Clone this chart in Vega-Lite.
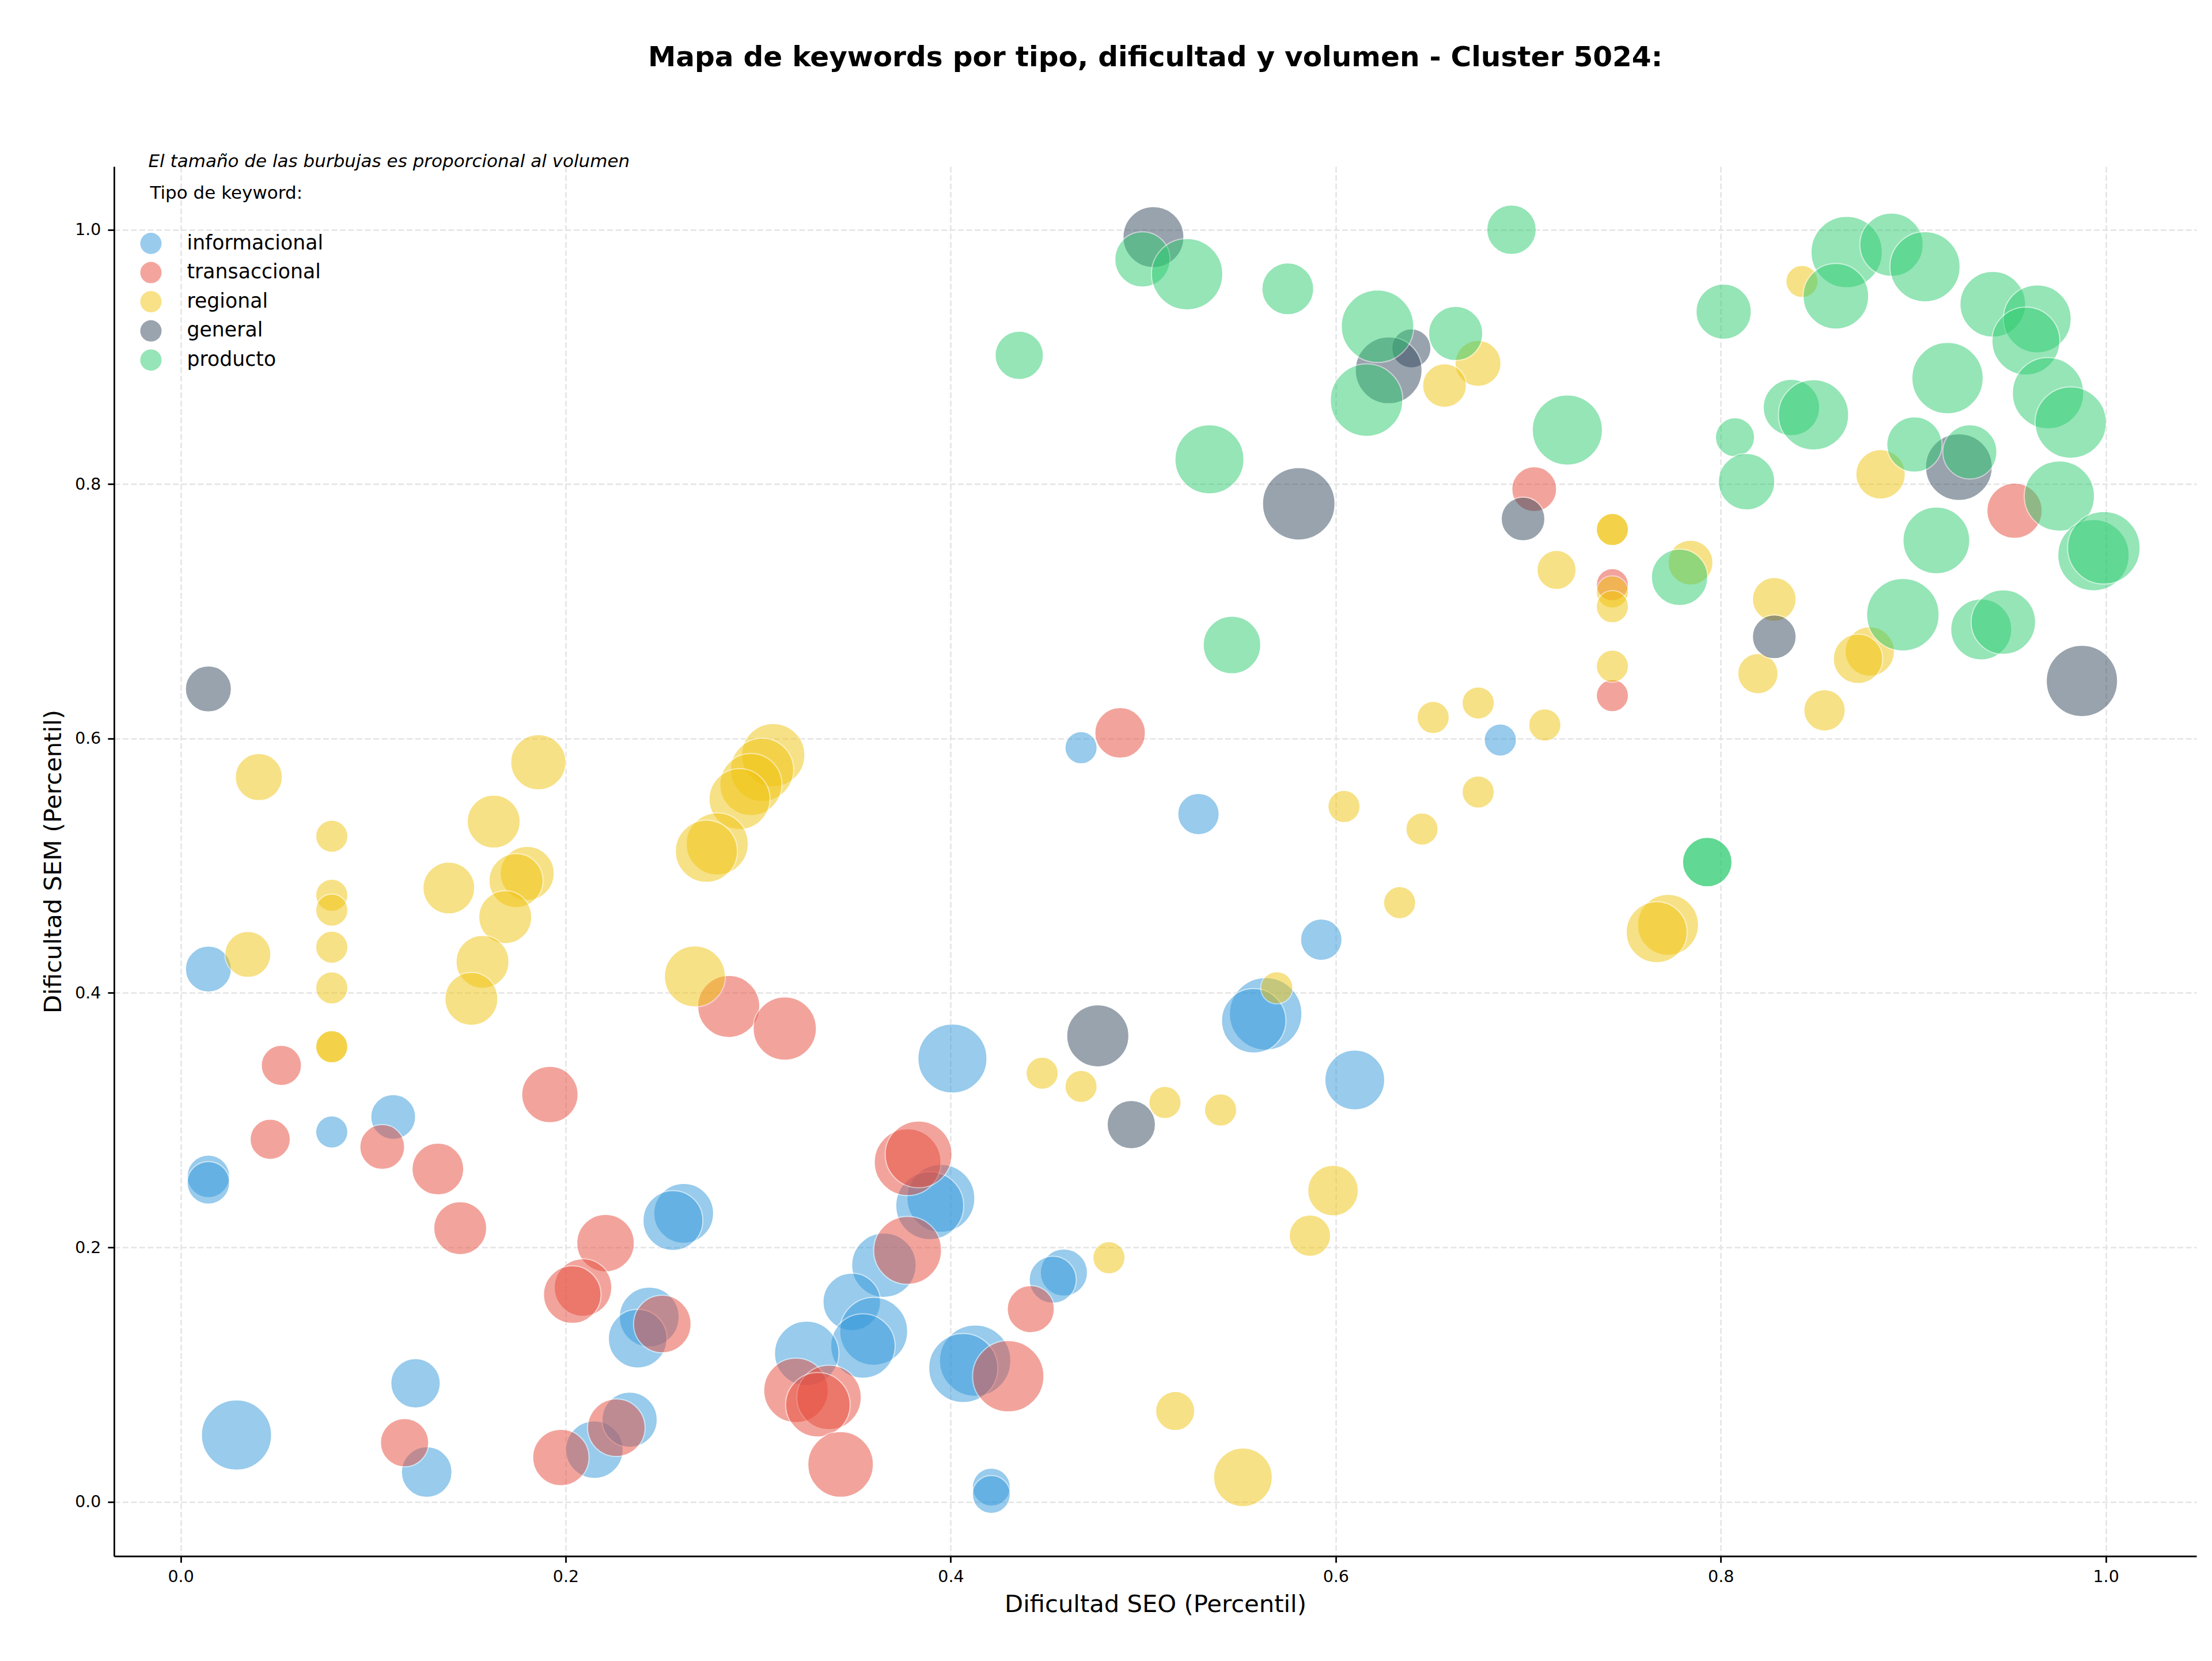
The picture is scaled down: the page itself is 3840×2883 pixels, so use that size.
{
  "$schema": "https://vega.github.io/schema/vega-lite/v6.json",
  "autosize": {"type": "none"},
  "padding": {"left": 198, "top": 289, "right": 27, "bottom": 182},
  "width": 3615,
  "height": 2412,
  "background": "white",
  "title": {
    "text": "Mapa de keywords por tipo, dificultad y volumen - Cluster 5024:",
    "fontSize": 48.6,
    "fontWeight": "bold",
    "font": "DejaVu Sans",
    "color": "black",
    "anchor": "middle",
    "frame": "group",
    "baseline": "alphabetic",
    "offset": 101
  },
  "config": {
    "font": "DejaVu Sans",
    "view": {"stroke": null},
    "axis": {
      "domainColor": "black",
      "domainWidth": 2.8,
      "tickColor": "black",
      "tickWidth": 2.8,
      "tickSize": 11,
      "labelFontSize": 28.5,
      "labelColor": "black",
      "labelFont": "DejaVu Sans",
      "titleFont": "DejaVu Sans",
      "titleFontSize": 41.7,
      "titleFontWeight": "normal",
      "titleColor": "black",
      "grid": true,
      "gridColor": "#e4e4e4",
      "gridWidth": 2.5,
      "gridDash": [10, 4.5]
    },
    "legend": {
      "orient": "none",
      "legendX": 45.5,
      "legendY": 115,
      "padding": 0,
      "labelFontSize": 34.7,
      "labelColor": "black",
      "labelFont": "DejaVu Sans",
      "labelOffset": 44,
      "labelLimit": 600,
      "symbolSize": 1369,
      "symbolOpacity": 0.5,
      "symbolStrokeWidth": 0,
      "symbolType": "circle",
      "rowPadding": 13.6
    }
  },
  "layer": [
    {
      "data": {"name": "keywords", "values": [
        {"tipo": "informacional", "seo": 0.0144, "sem": 0.4188, "volumen": 1600},
        {"tipo": "informacional", "seo": 0.0144, "sem": 0.2558, "volumen": 1369},
        {"tipo": "informacional", "seo": 0.0144, "sem": 0.2507, "volumen": 1369},
        {"tipo": "informacional", "seo": 0.0785, "sem": 0.2907, "volumen": 784},
        {"tipo": "informacional", "seo": 0.1104, "sem": 0.3025, "volumen": 1521},
        {"tipo": "informacional", "seo": 0.122, "sem": 0.0931, "volumen": 1849},
        {"tipo": "informacional", "seo": 0.029, "sem": 0.0524, "volumen": 3721},
        {"tipo": "informacional", "seo": 0.1278, "sem": 0.0233, "volumen": 1936},
        {"tipo": "informacional", "seo": 0.2149, "sem": 0.0409, "volumen": 2500},
        {"tipo": "informacional", "seo": 0.2332, "sem": 0.0645, "volumen": 2304},
        {"tipo": "informacional", "seo": 0.2613, "sem": 0.2267, "volumen": 2704},
        {"tipo": "informacional", "seo": 0.2557, "sem": 0.2211, "volumen": 2704},
        {"tipo": "informacional", "seo": 0.2434, "sem": 0.1452, "volumen": 2704},
        {"tipo": "informacional", "seo": 0.2374, "sem": 0.1282, "volumen": 2601},
        {"tipo": "informacional", "seo": 0.3949, "sem": 0.2385, "volumen": 3481},
        {"tipo": "informacional", "seo": 0.3891, "sem": 0.2327, "volumen": 3481},
        {"tipo": "informacional", "seo": 0.3653, "sem": 0.186, "volumen": 3136},
        {"tipo": "informacional", "seo": 0.3486, "sem": 0.1571, "volumen": 2500},
        {"tipo": "informacional", "seo": 0.36, "sem": 0.134, "volumen": 3481},
        {"tipo": "informacional", "seo": 0.3544, "sem": 0.1224, "volumen": 3136},
        {"tipo": "informacional", "seo": 0.3252, "sem": 0.1166, "volumen": 3136},
        {"tipo": "informacional", "seo": 0.4127, "sem": 0.1109, "volumen": 3844},
        {"tipo": "informacional", "seo": 0.4065, "sem": 0.1051, "volumen": 3600},
        {"tipo": "informacional", "seo": 0.4588, "sem": 0.1802, "volumen": 1681},
        {"tipo": "informacional", "seo": 0.453, "sem": 0.1745, "volumen": 1681},
        {"tipo": "informacional", "seo": 0.4211, "sem": 0.0115, "volumen": 1089},
        {"tipo": "informacional", "seo": 0.4211, "sem": 0.0057, "volumen": 1089},
        {"tipo": "informacional", "seo": 0.4009, "sem": 0.3485, "volumen": 3600},
        {"tipo": "informacional", "seo": 0.4677, "sem": 0.5928, "volumen": 784},
        {"tipo": "informacional", "seo": 0.5287, "sem": 0.5407, "volumen": 1296},
        {"tipo": "informacional", "seo": 0.5925, "sem": 0.4419, "volumen": 1296},
        {"tipo": "informacional", "seo": 0.5636, "sem": 0.3836, "volumen": 3969},
        {"tipo": "informacional", "seo": 0.5574, "sem": 0.3781, "volumen": 3136},
        {"tipo": "informacional", "seo": 0.6099, "sem": 0.3316, "volumen": 2704},
        {"tipo": "informacional", "seo": 0.6855, "sem": 0.5989, "volumen": 784},
        {"tipo": "transaccional", "seo": 0.0523, "sem": 0.343, "volumen": 1225},
        {"tipo": "transaccional", "seo": 0.0465, "sem": 0.2849, "volumen": 1225},
        {"tipo": "transaccional", "seo": 0.1047, "sem": 0.2789, "volumen": 1521},
        {"tipo": "transaccional", "seo": 0.1336, "sem": 0.2616, "volumen": 2025},
        {"tipo": "transaccional", "seo": 0.1452, "sem": 0.2151, "volumen": 2116},
        {"tipo": "transaccional", "seo": 0.1918, "sem": 0.3201, "volumen": 2401},
        {"tipo": "transaccional", "seo": 0.2207, "sem": 0.2033, "volumen": 2500},
        {"tipo": "transaccional", "seo": 0.209, "sem": 0.1684, "volumen": 2500},
        {"tipo": "transaccional", "seo": 0.2034, "sem": 0.1628, "volumen": 2500},
        {"tipo": "transaccional", "seo": 0.1163, "sem": 0.0464, "volumen": 1764},
        {"tipo": "transaccional", "seo": 0.1975, "sem": 0.0348, "volumen": 2401},
        {"tipo": "transaccional", "seo": 0.2263, "sem": 0.0582, "volumen": 2500},
        {"tipo": "transaccional", "seo": 0.2502, "sem": 0.1397, "volumen": 2500},
        {"tipo": "transaccional", "seo": 0.2847, "sem": 0.3894, "volumen": 2916},
        {"tipo": "transaccional", "seo": 0.3138, "sem": 0.372, "volumen": 3025},
        {"tipo": "transaccional", "seo": 0.3776, "sem": 0.2669, "volumen": 3364},
        {"tipo": "transaccional", "seo": 0.3833, "sem": 0.2731, "volumen": 3364},
        {"tipo": "transaccional", "seo": 0.3776, "sem": 0.1976, "volumen": 3481},
        {"tipo": "transaccional", "seo": 0.3196, "sem": 0.0875, "volumen": 3136},
        {"tipo": "transaccional", "seo": 0.3368, "sem": 0.082, "volumen": 3136},
        {"tipo": "transaccional", "seo": 0.331, "sem": 0.0762, "volumen": 3136},
        {"tipo": "transaccional", "seo": 0.3428, "sem": 0.0293, "volumen": 3249},
        {"tipo": "transaccional", "seo": 0.4299, "sem": 0.0986, "volumen": 3844},
        {"tipo": "transaccional", "seo": 0.4416, "sem": 0.1514, "volumen": 1681},
        {"tipo": "transaccional", "seo": 0.488, "sem": 0.6045, "volumen": 1936},
        {"tipo": "transaccional", "seo": 0.7031, "sem": 0.7961, "volumen": 1521},
        {"tipo": "transaccional", "seo": 0.7437, "sem": 0.721, "volumen": 784},
        {"tipo": "transaccional", "seo": 0.7437, "sem": 0.6338, "volumen": 784},
        {"tipo": "transaccional", "seo": 0.9526, "sem": 0.7791, "volumen": 2304},
        {"tipo": "regional", "seo": 0.0406, "sem": 0.5697, "volumen": 1681},
        {"tipo": "regional", "seo": 0.0785, "sem": 0.5232, "volumen": 784},
        {"tipo": "regional", "seo": 0.0785, "sem": 0.4768, "volumen": 784},
        {"tipo": "regional", "seo": 0.0785, "sem": 0.4651, "volumen": 784},
        {"tipo": "regional", "seo": 0.0785, "sem": 0.436, "volumen": 784},
        {"tipo": "regional", "seo": 0.0785, "sem": 0.404, "volumen": 784},
        {"tipo": "regional", "seo": 0.0785, "sem": 0.3577, "volumen": 784},
        {"tipo": "regional", "seo": 0.0785, "sem": 0.3577, "volumen": 784},
        {"tipo": "regional", "seo": 0.0349, "sem": 0.4303, "volumen": 1600},
        {"tipo": "regional", "seo": 0.1858, "sem": 0.5814, "volumen": 2304},
        {"tipo": "regional", "seo": 0.1626, "sem": 0.5347, "volumen": 2116},
        {"tipo": "regional", "seo": 0.18, "sem": 0.494, "volumen": 2209},
        {"tipo": "regional", "seo": 0.1742, "sem": 0.4883, "volumen": 2209},
        {"tipo": "regional", "seo": 0.1393, "sem": 0.4825, "volumen": 2025},
        {"tipo": "regional", "seo": 0.1686, "sem": 0.4596, "volumen": 2116},
        {"tipo": "regional", "seo": 0.1568, "sem": 0.4245, "volumen": 2116},
        {"tipo": "regional", "seo": 0.151, "sem": 0.3954, "volumen": 2116},
        {"tipo": "regional", "seo": 0.3078, "sem": 0.587, "volumen": 3025},
        {"tipo": "regional", "seo": 0.302, "sem": 0.5754, "volumen": 3025},
        {"tipo": "regional", "seo": 0.2962, "sem": 0.5639, "volumen": 2916},
        {"tipo": "regional", "seo": 0.2903, "sem": 0.5524, "volumen": 2809},
        {"tipo": "regional", "seo": 0.2787, "sem": 0.5172, "volumen": 2916},
        {"tipo": "regional", "seo": 0.2731, "sem": 0.5114, "volumen": 2916},
        {"tipo": "regional", "seo": 0.2671, "sem": 0.413, "volumen": 2809},
        {"tipo": "regional", "seo": 0.4475, "sem": 0.3369, "volumen": 784},
        {"tipo": "regional", "seo": 0.4677, "sem": 0.3265, "volumen": 784},
        {"tipo": "regional", "seo": 0.4822, "sem": 0.1918, "volumen": 784},
        {"tipo": "regional", "seo": 0.5113, "sem": 0.3139, "volumen": 784},
        {"tipo": "regional", "seo": 0.5402, "sem": 0.308, "volumen": 784},
        {"tipo": "regional", "seo": 0.5166, "sem": 0.0713, "volumen": 1156},
        {"tipo": "regional", "seo": 0.5518, "sem": 0.0192, "volumen": 2601},
        {"tipo": "regional", "seo": 0.5986, "sem": 0.2446, "volumen": 1936},
        {"tipo": "regional", "seo": 0.5866, "sem": 0.2092, "volumen": 1296},
        {"tipo": "regional", "seo": 0.5694, "sem": 0.4041, "volumen": 784},
        {"tipo": "regional", "seo": 0.6043, "sem": 0.5466, "volumen": 784},
        {"tipo": "regional", "seo": 0.6332, "sem": 0.471, "volumen": 784},
        {"tipo": "regional", "seo": 0.6448, "sem": 0.5289, "volumen": 784},
        {"tipo": "regional", "seo": 0.674, "sem": 0.558, "volumen": 784},
        {"tipo": "regional", "seo": 0.6506, "sem": 0.6166, "volumen": 784},
        {"tipo": "regional", "seo": 0.674, "sem": 0.628, "volumen": 784},
        {"tipo": "regional", "seo": 0.7086, "sem": 0.6107, "volumen": 784},
        {"tipo": "regional", "seo": 0.7437, "sem": 0.7644, "volumen": 784},
        {"tipo": "regional", "seo": 0.7437, "sem": 0.7644, "volumen": 784},
        {"tipo": "regional", "seo": 0.7437, "sem": 0.7153, "volumen": 784},
        {"tipo": "regional", "seo": 0.7437, "sem": 0.7037, "volumen": 784},
        {"tipo": "regional", "seo": 0.7437, "sem": 0.6569, "volumen": 784},
        {"tipo": "regional", "seo": 0.7147, "sem": 0.7326, "volumen": 1156},
        {"tipo": "regional", "seo": 0.6739, "sem": 0.895, "volumen": 1600},
        {"tipo": "regional", "seo": 0.6565, "sem": 0.8776, "volumen": 1444},
        {"tipo": "regional", "seo": 0.7843, "sem": 0.7384, "volumen": 1521},
        {"tipo": "regional", "seo": 0.7726, "sem": 0.4536, "volumen": 2809},
        {"tipo": "regional", "seo": 0.7667, "sem": 0.4478, "volumen": 2809},
        {"tipo": "regional", "seo": 0.8278, "sem": 0.7095, "volumen": 1444},
        {"tipo": "regional", "seo": 0.8193, "sem": 0.6511, "volumen": 1225},
        {"tipo": "regional", "seo": 0.8774, "sem": 0.6685, "volumen": 1849},
        {"tipo": "regional", "seo": 0.8713, "sem": 0.6627, "volumen": 1849},
        {"tipo": "regional", "seo": 0.8539, "sem": 0.6222, "volumen": 1296},
        {"tipo": "regional", "seo": 0.883, "sem": 0.8078, "volumen": 1849},
        {"tipo": "regional", "seo": 0.8422, "sem": 0.9594, "volumen": 784},
        {"tipo": "general", "seo": 0.0144, "sem": 0.639, "volumen": 1600},
        {"tipo": "general", "seo": 0.4764, "sem": 0.3663, "volumen": 2916},
        {"tipo": "general", "seo": 0.4938, "sem": 0.2965, "volumen": 1764},
        {"tipo": "general", "seo": 0.5053, "sem": 0.9943, "volumen": 2809},
        {"tipo": "general", "seo": 0.6393, "sem": 0.9068, "volumen": 1156},
        {"tipo": "general", "seo": 0.6275, "sem": 0.8895, "volumen": 3364},
        {"tipo": "general", "seo": 0.5808, "sem": 0.7846, "volumen": 3969},
        {"tipo": "general", "seo": 0.6973, "sem": 0.7727, "volumen": 1444},
        {"tipo": "general", "seo": 0.9237, "sem": 0.8135, "volumen": 3364},
        {"tipo": "general", "seo": 0.8278, "sem": 0.68, "volumen": 1444},
        {"tipo": "general", "seo": 0.9876, "sem": 0.6453, "volumen": 3844},
        {"tipo": "producto", "seo": 0.4356, "sem": 0.9013, "volumen": 1764},
        {"tipo": "producto", "seo": 0.4996, "sem": 0.9768, "volumen": 2304},
        {"tipo": "producto", "seo": 0.5228, "sem": 0.9651, "volumen": 3844},
        {"tipo": "producto", "seo": 0.5751, "sem": 0.9536, "volumen": 2025},
        {"tipo": "producto", "seo": 0.6913, "sem": 1.0001, "volumen": 1849},
        {"tipo": "producto", "seo": 0.6217, "sem": 0.9242, "volumen": 3969},
        {"tipo": "producto", "seo": 0.616, "sem": 0.8661, "volumen": 3969},
        {"tipo": "producto", "seo": 0.6623, "sem": 0.9185, "volumen": 2209},
        {"tipo": "producto", "seo": 0.7203, "sem": 0.8426, "volumen": 3721},
        {"tipo": "producto", "seo": 0.5344, "sem": 0.8196, "volumen": 3600},
        {"tipo": "producto", "seo": 0.5461, "sem": 0.6736, "volumen": 2500},
        {"tipo": "producto", "seo": 0.7786, "sem": 0.7268, "volumen": 2401},
        {"tipo": "producto", "seo": 0.793, "sem": 0.5029, "volumen": 1849},
        {"tipo": "producto", "seo": 0.793, "sem": 0.5029, "volumen": 1849},
        {"tipo": "producto", "seo": 0.8654, "sem": 0.9825, "volumen": 3844},
        {"tipo": "producto", "seo": 0.8887, "sem": 0.9883, "volumen": 3025},
        {"tipo": "producto", "seo": 0.9061, "sem": 0.971, "volumen": 3721},
        {"tipo": "producto", "seo": 0.8598, "sem": 0.9478, "volumen": 3249},
        {"tipo": "producto", "seo": 0.8015, "sem": 0.9357, "volumen": 2304},
        {"tipo": "producto", "seo": 0.9413, "sem": 0.9415, "volumen": 3249},
        {"tipo": "producto", "seo": 0.9644, "sem": 0.93, "volumen": 3481},
        {"tipo": "producto", "seo": 0.9585, "sem": 0.9126, "volumen": 3481},
        {"tipo": "producto", "seo": 0.9178, "sem": 0.8834, "volumen": 3844},
        {"tipo": "producto", "seo": 0.97, "sem": 0.8716, "volumen": 3844},
        {"tipo": "producto", "seo": 0.9818, "sem": 0.8485, "volumen": 3844},
        {"tipo": "producto", "seo": 0.8367, "sem": 0.8603, "volumen": 2401},
        {"tipo": "producto", "seo": 0.8482, "sem": 0.8545, "volumen": 3721},
        {"tipo": "producto", "seo": 0.8074, "sem": 0.8369, "volumen": 1156},
        {"tipo": "producto", "seo": 0.8134, "sem": 0.802, "volumen": 2401},
        {"tipo": "producto", "seo": 0.9006, "sem": 0.8312, "volumen": 2304},
        {"tipo": "producto", "seo": 0.9294, "sem": 0.8254, "volumen": 2209},
        {"tipo": "producto", "seo": 0.9759, "sem": 0.7907, "volumen": 3721},
        {"tipo": "producto", "seo": 0.912, "sem": 0.7558, "volumen": 3364},
        {"tipo": "producto", "seo": 0.9936, "sem": 0.7442, "volumen": 3844},
        {"tipo": "producto", "seo": 0.999, "sem": 0.75, "volumen": 3969},
        {"tipo": "producto", "seo": 0.8946, "sem": 0.6974, "volumen": 3969},
        {"tipo": "producto", "seo": 0.9353, "sem": 0.6858, "volumen": 2809},
        {"tipo": "producto", "seo": 0.9468, "sem": 0.6916, "volumen": 3136}
      ]},
      "mark": {"type": "point", "filled": true, "shape": "circle", "opacity": 0.5, "stroke": "white", "strokeWidth": 2},
      "encoding": {
        "x": {"field": "seo", "type": "quantitative", "title": "Dificultad SEO (Percentil)",
              "scale": {"domain": [-0.0346, 1.0471], "nice": false, "zero": false},
              "axis": {"values": [0, 0.2, 0.4, 0.6, 0.8, 1.0], "format": ".1f", "labelPadding": 10, "titlePadding": 14}},
        "y": {"field": "sem", "type": "quantitative", "title": "Dificultad SEM (Percentil)",
              "scale": {"domain": [-0.0428, 1.0498], "nice": false, "zero": false},
              "axis": {"values": [0, 0.2, 0.4, 0.6, 0.8, 1.0], "format": ".1f", "labelPadding": 12, "titlePadding": 15}},
        "color": {"field": "tipo", "type": "nominal", "legend": {"title": null},
                  "scale": {"domain": ["informacional", "transaccional", "regional", "general", "producto"],
                            "range": ["#3498db", "#e74c3c", "#f1c40f", "#34495e", "#2ecc71"]}},
        "size": {"field": "volumen", "type": "quantitative", "legend": null,
                 "scale": {"type": "linear", "domain": [0, 4000], "range": [0, 16000], "zero": true}}
      }
    },
    {
      "data": {"values": [{"nota": "El tamaño de las burbujas es proporcional al volumen"}]},
      "mark": {"type": "text", "align": "left", "baseline": "alphabetic", "fontSize": 31, "fontStyle": "italic", "font": "DejaVu Sans", "color": "black", "clip": false},
      "encoding": {
        "text": {"field": "nota", "type": "nominal"},
        "x": {"datum": -0.0168, "type": "quantitative"},
        "y": {"datum": 1.0494, "type": "quantitative"}
      }
    },
    {
      "data": {"values": [{"leyenda": "Tipo de keyword:"}]},
      "mark": {"type": "text", "align": "left", "baseline": "alphabetic", "fontSize": 31, "font": "DejaVu Sans", "color": "black", "clip": false},
      "encoding": {
        "text": {"field": "leyenda", "type": "nominal"},
        "x": {"datum": -0.0159, "type": "quantitative"},
        "y": {"datum": 1.0245, "type": "quantitative"}
      }
    }
  ]
}
